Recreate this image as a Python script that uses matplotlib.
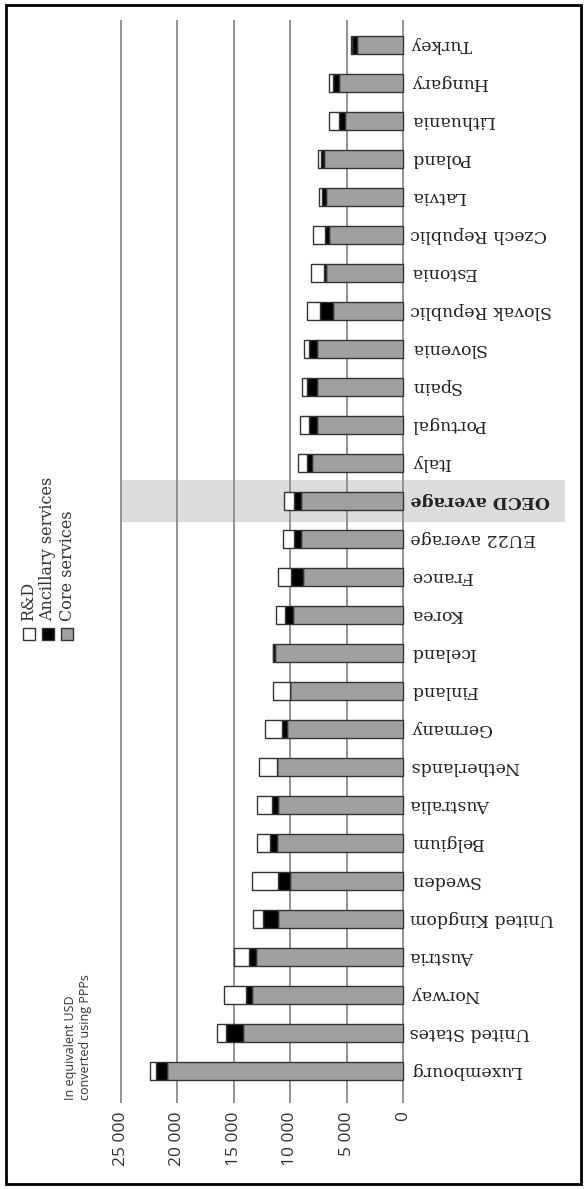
import matplotlib.pyplot as plt
from matplotlib.patches import Rectangle

# data, bottom (Luxembourg) to top (Turkey)
countries = ["Luxembourg", "United States", "Norway", "Austria", "United Kingdom",
             "Sweden", "Belgium", "Australia", "Netherlands", "Germany", "Finland",
             "Iceland", "Korea", "France", "EU22 average", "OECD average", "Italy",
             "Portugal", "Spain", "Slovenia", "Slovak Republic", "Estonia",
             "Czech Republic", "Latvia", "Poland", "Lithuania", "Hungary", "Turkey"]
core = [20900, 14150, 13400, 13050, 11050, 10000, 11200, 11050, 11200, 10250, 10000,
        11350, 9800, 8900, 9050, 9050, 8050, 7650, 7650, 7650, 6200, 6850,
        6550, 6850, 7000, 5200, 5650, 4100]
ancillary = [950, 1550, 550, 600, 1400, 1050, 600, 550, 0, 500, 0,
             200, 650, 1050, 600, 600, 500, 700, 850, 700, 1150, 150,
             400, 300, 250, 450, 600, 400]
rnd = [600, 750, 1900, 1300, 850, 2300, 1100, 1350, 1550, 1500, 1550,
       0, 800, 1150, 950, 900, 800, 750, 500, 450, 1150, 1150,
       1000, 350, 300, 900, 350, 100]
ticks = [0, 5000, 10000, 15000, 20000, 25000]
tick_labels = ["0", "5 000", "10 000", "15 000", "20 000", "25 000"]

W, H = 587, 1189
fig = plt.figure(figsize=(W / 100, H / 100), dpi=100)

# axes placed in pixels: x=0 at px 403.3, 25000 at px 120.7; rows 38 px apart
ppu = (403.3 - 120.7) / 25000
ax_l, ax_r = 5, 582
ax_t, ax_b = 20, 1103
ax = fig.add_axes([ax_l / W, 1 - ax_b / H, (ax_r - ax_l) / W, (ax_b - ax_t) / H])
ax.set_xlim((403.3 - ax_l) / ppu, (403.3 - ax_r) / ppu)
ax.set_ylim((1071 - ax_b) / 38, (1071 - ax_t) / 38)
for s in ax.spines.values():
    s.set_visible(False)
ax.set_yticks([])

ax.set_xticks(ticks)
ax.set_xticklabels(tick_labels, rotation=90, family="Open Sans", fontsize=12.5, color="#333333")
ax.tick_params(axis="x", length=0, pad=6)

for t in ticks:
    ax.axvline(t, color="#8a8a8a", lw=1.3, zorder=1)

# OECD highlight
oecd = countries.index("OECD average")
ax.add_patch(Rectangle((25000, oecd - 0.55), -25000 - (565 - 403.3) / ppu, 1.1,
                       facecolor="#dcdcdc", edgecolor="none", zorder=0))

y = list(range(len(countries)))
h = 0.47
left2 = [c + a for c, a in zip(core, ancillary)]
ax.barh(y, core, height=h, color="#a0a0a0", edgecolor="#333333", lw=1, zorder=3)
ax.barh(y, ancillary, left=core, height=h, color="black", edgecolor="#333333", lw=1, zorder=3)
ax.barh(y, rnd, left=left2, height=h, color="white", edgecolor="#333333", lw=1, zorder=3)

for i, name in enumerate(countries):
    ax.text(-600, i, name, rotation=180, ha="left", va="center",
            family="DejaVu Serif", fontsize=12.5, color="#222222",
            fontweight="bold" if name == "OECD average" else "normal")

# legend, drawn by hand (rotated)
leg = [("R&D", "white", 29), ("Ancillary services", "black", 48), ("Core services", "#a0a0a0", 67)]
for label, col, xc in leg:
    fig.text(xc / W, 1 - 621 / H, label, rotation=90, ha="center", va="bottom",
             family="DejaVu Serif", fontsize=11.5, color="#333333")
    fig.add_artist(Rectangle(((xc - 6) / W, 1 - 640 / H), 12 / W, 12 / H,
                             transform=fig.transFigure, facecolor=col, edgecolor="#333333", lw=1))

fig.text(78 / W, 1 - 1100 / H, "In equivalent USD\nconverted using PPPs", rotation=90,
         ha="center", va="bottom", multialignment="left",
         family="Open Sans", fontsize=9, color="#333333")

# frame around the whole picture
fig.add_artist(Rectangle((6 / W, 1 - 1184 / H), 575 / W, 1179 / H, transform=fig.transFigure,
                         fill=False, edgecolor="black", lw=2))

fig.savefig("out.png", dpi=100)
